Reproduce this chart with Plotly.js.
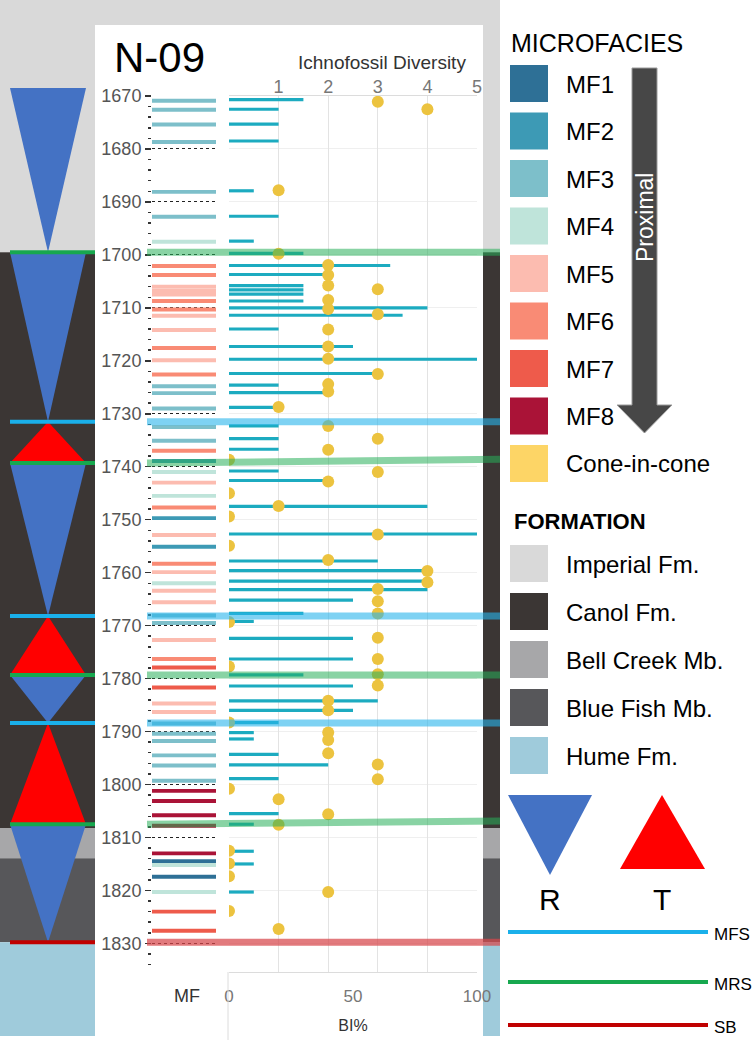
<!DOCTYPE html>
<html><head><meta charset="utf-8">
<script src="https://cdn.plot.ly/plotly-3.0.1.min.js"></script>
<style>html,body{margin:0;padding:0;background:#fff}#chart{width:752px;height:1061px}</style>
</head><body><div id="chart"></div>
<script>
// ---------------- DATA ----------------
const mfNames = ['MF1','MF2','MF3','MF4','MF5','MF6','MF7','MF8'];
const mfColors = ['#2e7096','#3d9ab5','#7dbfca','#bfe4da','#fcbcb0','#f98b75','#ee5b4b','#aa1337'];
const coneLabel = 'Cone-in-cone';
const coneColor = '#fdd566';

const mfDepth = [1670.9,1672.6,1675.4,1678.7,1688.1,1692.8,1697.5,
  1702.1,1703.8,1706.0,1706.8,1707.5,1708.7,1710.3,1711.5,1714.2,1717.6,1719.9,1722.6,
  1724.8,1726.1,1729.0,1732.5,1735.1,1737.0,1738.9,1741.0,1743.0,1745.5,1747.7,1749.7,
  1752.9,1755.1,1758.3,1759.9,1762.0,1763.4,1765.6,1768.1,1769.5,1772.7,1776.3,1777.9,
  1781.7,1784.7,1786.3,1788.5,1790.4,1791.8,1794.5,1796.4,1799.3,1801.2,1803.1,1805.8,
  1807.8,1813.0,1814.5,1815.2,1817.4,1820.3,1824.0,1827.6];
const mfClass = ['MF3','MF3','MF3','MF3','MF3','MF3','MF4',
  'MF6','MF6','MF5','MF5','MF5','MF6','MF6','MF5','MF5','MF6','MF5','MF6',
  'MF3','MF3','MF3','MF3','MF3','MF6','MF2','MF4','MF5','MF4','MF6','MF2',
  'MF5','MF2','MF6','MF5','MF4','MF5','MF5','MF3','MF3','MF5','MF6','MF7',
  'MF7','MF5','MF5','MF3','MF3','MF3','MF3','MF3','MF3','MF8','MF8','MF8',
  'MF8','MF8','MF1','MF4','MF1','MF4','MF7','MF7'];

const biDepth = [1670.7,1672.5,1675.3,1678.5,1687.9,1692.7,1697.4,1699.7,1702.0,1703.7,
  1705.8,1706.6,1707.4,1708.7,1710.0,1711.4,1714.0,1717.3,1719.7,1722.4,1724.6,1726.0,
  1728.8,1732.3,1734.7,1736.7,1740.8,1742.6,1747.5,1752.7,1757.8,1759.6,1761.6,1763.2,
  1765.2,1767.7,1769.2,1772.4,1776.3,1779.3,1781.4,1784.2,1786.0,1788.3,1790.2,1791.4,
  1794.3,1796.3,1798.9,1805.5,1807.5,1812.6,1815.0,1820.3];
const biValue = [30,20,20,20,10,20,10,30,65,40,
  30,30,30,30,80,70,20,50,100,60,20,40,
  20,20,20,20,20,40,80,100,60,80,80,80,
  50,30,10,50,50,30,50,60,50,20,10,10,
  20,40,20,20,10,10,10,10];

const ichDepth = [1671.1,1672.5,1687.8,1699.8,1701.9,1703.8,1705.8,1706.5,1708.5,1710.2,
  1711.2,1714.1,1717.3,1719.6,1722.5,1724.4,1725.8,1728.7,1732.3,1734.7,1736.8,1738.7,
  1741.0,1742.8,1745.0,1747.4,1749.4,1752.8,1754.9,1757.6,1759.7,1761.8,1763.1,1765.4,
  1767.7,1769.3,1772.3,1776.3,1777.7,1779.2,1781.3,1784.2,1786.0,1788.3,1790.2,1791.6,
  1794.1,1796.2,1799.0,1800.8,1802.8,1805.6,1807.6,1812.5,1814.9,1817.3,1820.3,1823.9,1827.3];
const ichValue = [3,4,1,1,2,2,2,3,2,2,
  3,2,2,2,3,2,2,1,2,3,2,0,
  3,2,0,1,0,3,0,2,4,4,3,3,
  3,0,3,3,0,3,3,2,2,0,2,2,
  2,3,3,0,1,2,1,0,0,0,2,0,1];

const depthTicks = {start:1670, step:10, minorStep:2};
const depthBottom = 1835.4;
const diversityTicks = [1,2,3,4,5];
const biTicks = [0,50,100];

const formationNames = ['Imperial Fm.','Canol Fm.','Bell Creek Mb.','Blue Fish Mb.','Hume Fm.'];
const formationColors = ['#d9d9d9','#3b3634','#a7a7a9','#57575a','#9fcbdb'];
const formationTop = [1640,1699.5,1808.2,1813.9,1829.8];
const formationBase = [1699.5,1808.2,1813.9,1829.8,1847.5];

const surfaceType = ['MRS','MFS','MRS','MFS','MRS','MFS','MRS','SB'];
const surfaceDepth = [1699.5,1731.5,1739.3,1768.2,1779.3,1788.4,1807.5,1829.8];
const surfaceDepthRight = [1699.5,1731.5,1738.6,1768.2,1779.3,1788.4,1806.9,1829.8];

const tractType = ['R','R','T','R','T','R','T','R'];
const tractTop = [1668.5,1699.5,1731.5,1739.3,1768.2,1779.3,1788.4,1807.5];
const tractBase = [1699.5,1731.5,1739.3,1768.2,1779.3,1788.4,1807.5,1829.8];

// ---------------- STYLE / LAYOUT ----------------
const W = 752, H = 1061;
const px = v => v / W;
const py = v => 1 - v / H;
const FONT = 'Liberation Sans, Arial, sans-serif';
const surfColor = {MFS:'#1ab0ea', MRS:'#17a84f', SB:'#c00000'};
const bandColor = {MFS:'rgba(40,180,235,0.6)', MRS:'rgba(40,175,90,0.55)', SB:'rgba(215,70,75,0.72)'};
const tractColor = {R:'#4472c4', T:'#ff0000'};
const plotTop = 96, plotBottom = 972;
const yDomain = [py(plotBottom), py(plotTop)];
// full-page helper depth axis sharing the same depth scale (for decorations that extend past the plot)
const pxPerM = (plotBottom - plotTop) / (depthBottom - depthTicks.start);
const pageRange = [depthBottom + (H - plotBottom) / pxPerM, depthTicks.start - plotTop / pxPerM];

const traces = [];
mfNames.forEach((name, i) => {
  const ys = mfDepth.filter((d, k) => mfClass[k] === name);
  traces.push({type:'bar', orientation:'h', name, x: ys.map(() => 1), y: ys, base: 0, width: 0.75,
    marker:{color: mfColors[i], line:{width:0}}, xaxis:'x', yaxis:'y', hoverinfo:'skip'});
});
traces.push({type:'bar', orientation:'h', name:'BI%', x: biValue, y: biDepth, base:0, width:0.6,
  marker:{color:'#1cabc0', line:{width:0}}, xaxis:'x2', yaxis:'y2', hoverinfo:'skip'});
traces.push({type:'scatter', mode:'markers', name:'Ichnofossil Diversity', x: ichValue, y: ichDepth,
  marker:{size:12, color:'#ecc33f'}, xaxis:'x3', yaxis:'y2', hoverinfo:'skip'});

const shapes = [];
// formation background column
formationNames.forEach((n, i) => {
  shapes.push({type:'rect', layer:'below', xref:'paper', yref:'y3', x0:0, x1:px(500),
    y0: formationTop[i], y1: formationBase[i], fillcolor: formationColors[i], line:{width:0}});
});
// white panel
shapes.push({type:'rect', layer:'below', xref:'paper', yref:'paper', x0:px(95), x1:px(483),
  y0:py(1040), y1:py(25), fillcolor:'#ffffff', line:{width:0}});
// T-R triangles
tractType.forEach((t, i) => {
  const a = px(10), b = px(86), c = px(48);
  const path = t === 'R'
    ? `M ${a},${tractTop[i]} L ${b},${tractTop[i]} L ${c},${tractBase[i]} Z`
    : `M ${a},${tractBase[i]} L ${b},${tractBase[i]} L ${c},${tractTop[i]} Z`;
  shapes.push({type:'path', layer:'below', xref:'paper', yref:'y3', path, fillcolor: tractColor[t], line:{width:0}});
});
// surfaces in left column
surfaceType.forEach((s, i) => {
  shapes.push({type:'line', layer:'below', xref:'paper', yref:'y3', x0:px(10), x1:px(95),
    y0: surfaceDepth[i], y1: surfaceDepth[i], line:{color: surfColor[s], width:4}});
});
// surfaces across chart
surfaceType.forEach((s, i) => {
  shapes.push({type:'line', layer:'above', xref:'paper', yref:'y3', x0:px(147), x1:px(500),
    y0: surfaceDepth[i], y1: surfaceDepthRight[i], line:{color: bandColor[s], width:7}});
});
// lower BI box left edge
shapes.push({type:'line', layer:'above', xref:'paper', yref:'paper', x0:px(228), x1:px(228),
  y0:py(972), y1:py(1040), line:{color:'#dcdcdc', width:1}});

// legend shapes
const ann = [];
const addText = (text, x, y, size, opts = {}) => ann.push(Object.assign({text, x: px(x), y: py(y),
  xref:'paper', yref:'paper', showarrow:false, xanchor:'left', yanchor:'middle',
  font:{family: FONT, size, color:'#000'}}, opts));

addText('MICROFACIES', 509, 43, 25);
mfNames.forEach((n, i) => {
  const top = 65 + i * 47.5;
  shapes.push({type:'rect', xref:'paper', yref:'paper', x0:px(510), x1:px(548), y0:py(top+37), y1:py(top),
    fillcolor: mfColors[i], line:{width:0}});
  addText(n, 564, top + 19, 24);
});
{
  const top = 65 + 8 * 47.5;
  shapes.push({type:'rect', xref:'paper', yref:'paper', x0:px(510), x1:px(548), y0:py(top+37), y1:py(top),
    fillcolor: coneColor, line:{width:0}});
  addText(coneLabel, 564, top + 19, 24);
}
// proximal arrow
shapes.push({type:'path', xref:'paper', yref:'paper', fillcolor:'#474747', line:{color:'#9a9a9a', width:1},
  path:`M ${px(632)},${py(68)} L ${px(657)},${py(68)} L ${px(657)},${py(405)} L ${px(672)},${py(405)} L ${px(644.5)},${py(433)} L ${px(617)},${py(405)} L ${px(632)},${py(405)} Z`});
addText('Proximal', 645, 218, 23, {xanchor:'center', textangle:-90, font:{family:FONT, size:23, color:'#ffffff'}});

addText('<b>FORMATION</b>', 512, 521, 22);
formationNames.forEach((n, i) => {
  const top = 545 + i * 48;
  shapes.push({type:'rect', xref:'paper', yref:'paper', x0:px(510), x1:px(548), y0:py(top+37), y1:py(top),
    fillcolor: formationColors[i], line:{width:0}});
  addText(n, 564, top + 19, 24);
});
// R / T legend
shapes.push({type:'path', xref:'paper', yref:'paper', fillcolor: tractColor.R, line:{width:0},
  path:`M ${px(508)},${py(795)} L ${px(592)},${py(795)} L ${px(550)},${py(875)} Z`});
shapes.push({type:'path', xref:'paper', yref:'paper', fillcolor: tractColor.T, line:{width:0},
  path:`M ${px(620)},${py(869)} L ${px(705)},${py(869)} L ${px(662)},${py(795)} Z`});
addText('R', 550, 899, 30, {xanchor:'center'});
addText('T', 662, 899, 30, {xanchor:'center'});
['MFS','MRS','SB'].forEach((s, i) => {
  const y = [932, 982, 1025][i];
  shapes.push({type:'line', xref:'paper', yref:'paper', x0:px(508), x1:px(708), y0:py(y), y1:py(y),
    line:{color: surfColor[s], width:4}});
  addText(s, 712, y + 2, 17);
});

// chart texts
addText('N-09', 112, 57, 42);
addText('Ichnofossil Diversity', 382, 63, 19, {xanchor:'center', font:{family:FONT, size:19, color:'#333'}});
addText('MF', 187, 996, 18, {xanchor:'center', font:{family:FONT, size:18, color:'#333'}});

const layout = {
  width: W, height: H, margin:{l:0, r:0, t:0, b:0},
  paper_bgcolor:'#ffffff', plot_bgcolor:'rgba(0,0,0,0)',
  showlegend:false, barmode:'overlay',
  font:{family: FONT},
  xaxis:{domain:[px(152), px(216)], range:[0,1], visible:false, anchor:'y', fixedrange:true},
  yaxis:{domain: yDomain, range:[depthBottom, depthTicks.start], anchor:'x',
    tickmode:'linear', tick0: depthTicks.start, dtick: depthTicks.step,
    ticks:'outside', ticklen:6, tickwidth:1.5, tickcolor:'#333',
    showgrid:true, gridcolor:'#222', griddash:'dot', gridwidth:1,
    zeroline:false, showline:false,
    tickfont:{family: FONT, size:18, color:'#555'},
    minor:{tick0: depthTicks.start, dtick: depthTicks.minorStep, ticks:'outside', ticklen:3, tickwidth:1.5, tickcolor:'#333', showgrid:false}},
  yaxis3:{domain:[0,1], range: pageRange, anchor:'x', visible:false, fixedrange:true},
  xaxis2:{domain:[px(229), px(477)], range:[0,100], anchor:'y2', side:'bottom',
    tickmode:'array', tickvals: biTicks, ticks:'', showgrid:false, zeroline:false,
    showline:true, linecolor:'#dcdcdc', linewidth:1,
    tickfont:{family: FONT, size:17, color:'#777'}, ticklabelstandoff:9,
    title:{text:'BI%', font:{family: FONT, size:16, color:'#333'}, standoff:14}},
  xaxis3:{domain:[px(229), px(477)], range:[0,5], overlaying:'x2', anchor:'y2', side:'top',
    tickmode:'array', tickvals:[0, ...diversityTicks], ticktext:['', ...diversityTicks.map(String)],
    ticks:'', showgrid:true, gridcolor:'#e3e3e3', zeroline:false,
    showline:true, linecolor:'#dcdcdc', linewidth:1, ticklabelstandoff:-5,
    tickfont:{family: FONT, size:18, color:'#777'}},
  yaxis2:{domain: yDomain, matches:'y', anchor:'x2', showticklabels:false, ticks:'',
    tickmode:'linear', tick0: depthTicks.start, dtick: depthTicks.step,
    showgrid:true, gridcolor:'#efefef', zeroline:false, showline:false},
  shapes, annotations: ann
};
Plotly.newPlot('chart', traces, layout, {displayModeBar:false, staticPlot:true});
</script></body></html>
